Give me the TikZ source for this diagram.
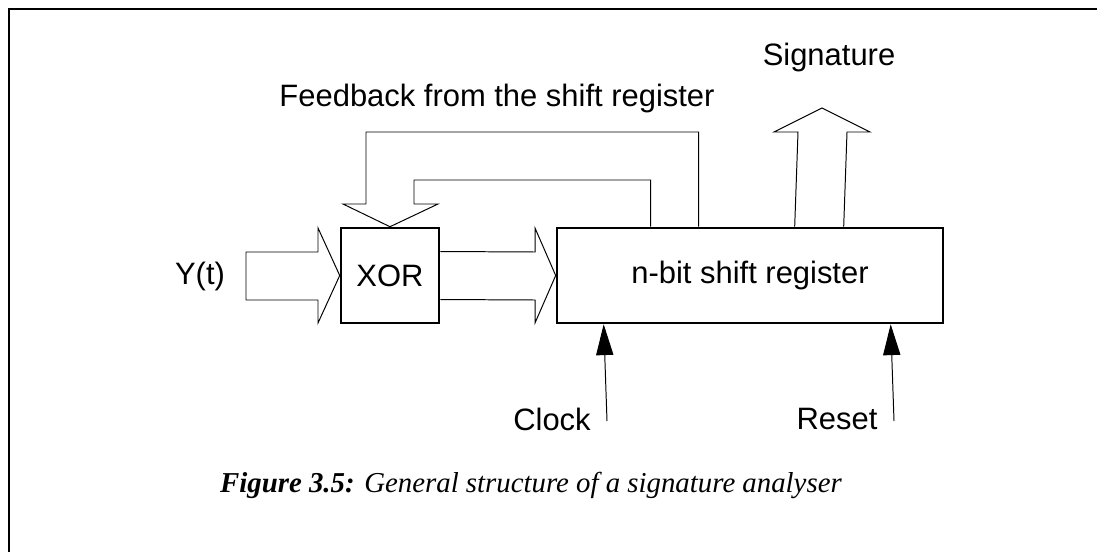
\documentclass[tikz,border=0pt]{standalone}
\usepackage{fontspec}
\setmainfont{Liberation Sans}
\newfontfamily\capfont{Liberation Serif}
\usetikzlibrary{calc,arrows.meta}
\tikzset{
  blk/.style={draw, line width=1.8pt, minimum height=2.375cm, inner sep=0pt},
  fat/.style={line width=0.7pt},
  sig/.style={line width=0.7pt, -{Triangle[length=7.7mm, width=4.3mm]}}
}
\begin{document}
\begin{tikzpicture}[x=0.025cm, y=-0.025cm, font=\fontsize{22}{26}\selectfont, line join=miter]
  \useasboundingbox (0,0) rectangle (1097,552);
  \draw[line width=1.4pt] (9,552) -- (9,9) -- (1097,9);
  % blocks
  \node[blk, minimum width=2.45cm] (xor) at (390,275.5) {XOR};
  \node[blk, minimum width=9.65cm] (sr) at (750,275.5) {n-bit shift register};
  % labels
  \node (yt) at (200,276) {Y(t)};
  \node (fb) at (497,99) {Feedback from the shift register};
  \node (sign) at (829,58) {Signature};
  \node (clk) at (552,419) {Clock};
  \node (rst) at (837,419) {Reset};
  \coordinate (clkin) at (607,421);
  \coordinate (rstin) at (894,421);
  % fat arrows
  \draw[fat] (246,252) -- (318,252) -- (318,228) -- (xor.west) -- (318,323) -- (318,300) -- (246,300) -- cycle;
  \draw[fat] ($(xor.east)+(0,-24)$) -- (535,252) -- (535,228) -- (sr.west) -- (535,323) -- (535,300) -- ($(xor.east)+(0,24)$);
  \draw[fat] ($(sr.north west)+(143,0)$) |- (366,132) -- (366,204) -- (343,204) -- (xor.north)
     -- (438,204) -- (414,204) -- (414,180) -| ($(sr.north west)+(95,0)$);
  \draw[fat] ($(sr.north west)+(239,0)$) -- (798,132) -- (774,132) -- (822,108) -- (870,132) -- (847,132) -- ($(sr.north west)+(288,0)$);
  % control inputs
  \draw[sig] (clkin) -- ($(sr.south west)+(48,0)$);
  \draw[sig] (rstin) -- ($(sr.south west)+(335,0)$);
  % caption
  \node[font={\capfont\fontsize{20.5}{24}\selectfont}] (cap) at (531,485)
    {\textbf{\textit{Figure 3.5:}} \textit{General structure of a signature analyser}};
\end{tikzpicture}
\end{document}
